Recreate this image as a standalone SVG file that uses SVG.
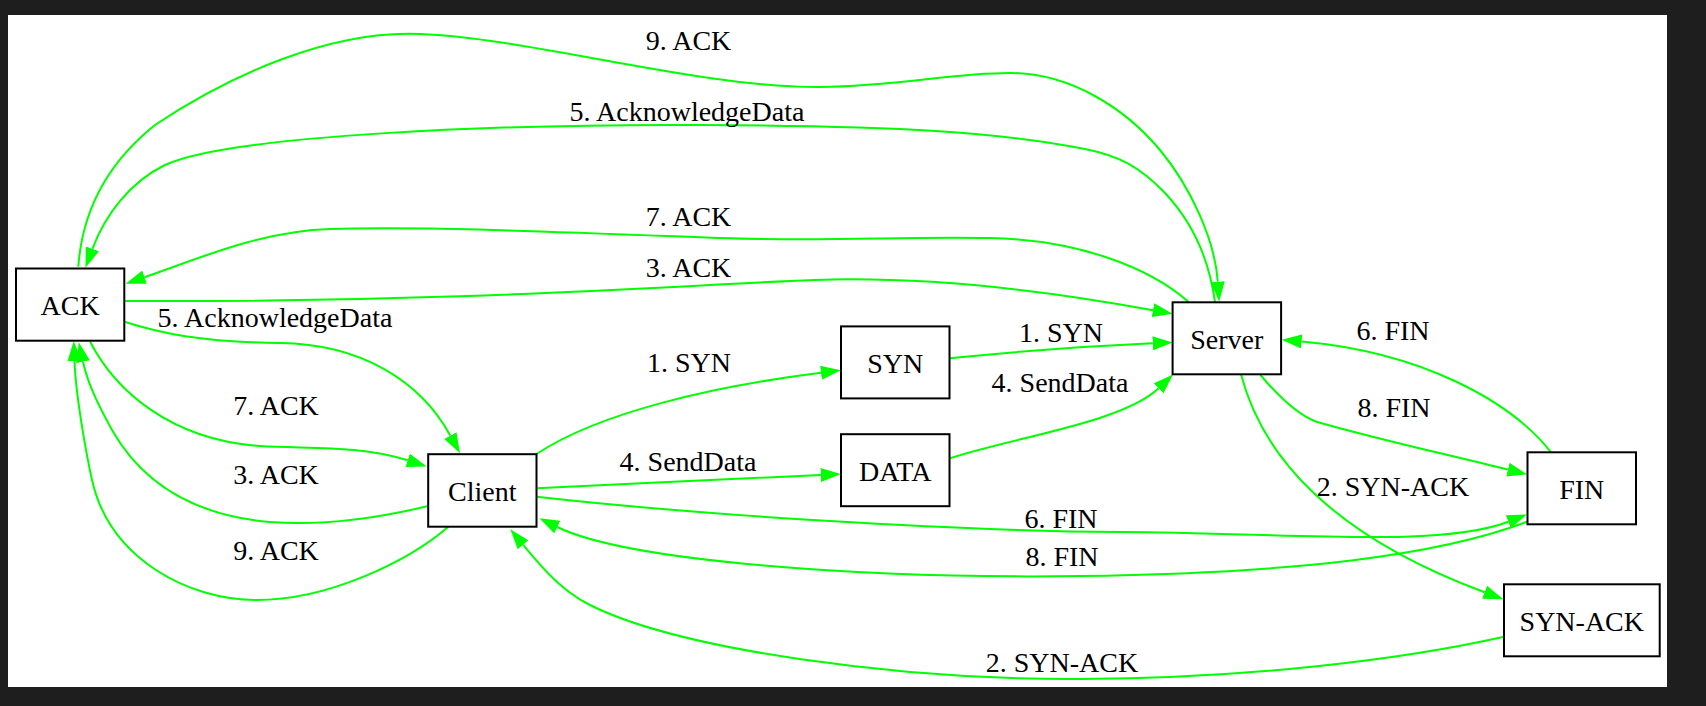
<svg xmlns="http://www.w3.org/2000/svg" width="1706" height="706" viewBox="0 0 1706 706">
<defs>
<style>
.n rect{fill:#fff;stroke:#000;stroke-width:2}
text{font-family:"Liberation Serif","Times New Roman",serif;font-size:28px;fill:#000;text-anchor:middle}
.e path{fill:none;stroke:#00ff00;stroke-width:2;marker-end:url(#ah)}
</style>
<marker id="ah" markerUnits="userSpaceOnUse" markerWidth="20" markerHeight="14" viewBox="0 0 20 14" refX="0" refY="7" orient="auto">
<path d="M0,0 L20,7 L0,14 Z" fill="#00ff00"/>
</marker>
</defs>
<rect width="1706" height="706" fill="#1e1e1e"/>
<rect x="8" y="15" width="1659" height="672" fill="#fff"/>
<g id="connectors" class="e">
<g id="e1"><path d="M536.5,454 C600,412 715,386 821,372.8"/><text x="689" y="372.3">1. SYN</text></g>
<g id="e2"><path d="M949.6,358.3 C1020,351 1090,346 1152.7,343.3"/><text x="1061" y="342.3">1. SYN</text></g>
<g id="e3"><path d="M536.7,488.3 C630,484 730,479 820.8,474.9"/><text x="688" y="470.7">4. SendData</text></g>
<g id="e4"><path d="M950,458.3 C1010,438 1122.6,422.8 1158.6,388.3"/><text x="1060" y="391.7">4. SendData</text></g>
<g id="e5"><path d="M536.7,496.7 C700,515 950,531 1120,532 C1290,533 1440,548 1508.3,521.7"/><text x="1061" y="528.3">6. FIN</text></g>
<g id="e6"><path d="M1527.3,521.7 C1440,555 1300,573 1080,576 C870,579 629,562 557.3,527"/><text x="1062" y="566">8. FIN</text></g>
<g id="e7"><path d="M1504,636.7 C1400,660 1250,678 1080,679 C900,680 680,650 590,605 C560,590 540,565 523.1,544.7"/><text x="1062" y="672.3">2. SYN-ACK</text></g>
<g id="e8"><path d="M1241,374.3 C1262,455 1330,535 1484.6,592.2"/><text x="1393" y="495.7">2. SYN-ACK</text></g>
<g id="e9"><path d="M1260.4,375 C1280,398 1300,416 1316.5,421.7 C1380,440 1450,455 1507.9,469.6"/><text x="1394" y="417.3">8. FIN</text></g>
<g id="e10"><path d="M1551,452.3 C1510,400 1420,352 1301.6,341.5"/><text x="1393" y="340">6. FIN</text></g>
<g id="e11"><path d="M428.3,506 C370,520 320,526 270,522 C200,516 145,488 112,430 C100,408 88,385 83,361.7"/><text x="276" y="484">3. ACK</text></g>
<g id="e12"><path d="M448.3,526.7 C410,560 330,600 256,600 C190,600 110,560 92,480 C88,462 76,400 74.5,361"/><text x="276" y="560">9. ACK</text></g>
<g id="e13"><path d="M90,341.5 C115,390 170,440 260,446 C310,449 360,445 407.7,460.3"/><text x="276" y="415">7. ACK</text></g>
<g id="e14"><path d="M124.3,321.7 C160,333 200,342 280,343 C360,344 420,380 450.4,435.7"/><text x="275" y="326.7">5. AcknowledgeData</text></g>
<g id="e15"><path d="M124.3,301 C500,303 740,280 848,279.3 C950,279 1060,293 1153,310.2"/><text x="688.5" y="276.7">3. ACK</text></g>
<g id="e16"><path d="M1188.3,301.7 C1150,268 1080,240 990,238 C900,236 830,242 720,238 C560,232 420,226 330,229 C260,231 195,260 144.5,277.2"/><text x="688.5" y="225.7">7. ACK</text></g>
<g id="e17"><path d="M1215,302.3 C1210,265 1195,225 1165,193 C1140,167 1120,156 1085,149 C1000,132 900,126 700,125 C500,124 230,135 165,165 C130,182 105,215 92.4,248.9"/><text x="687" y="120.7">5. AcknowledgeData</text></g>
<g id="e18"><path d="M78.3,266.7 C82,215 105,165 155,125 C230,75 330,30 420,34 C530,38 700,88 820,87 C900,86 950,73 1010,73 C1070,73 1125,108 1160,150 C1190,186 1215,240 1217.8,281.7"/><text x="688.5" y="50">9. ACK</text></g>
</g>
<g id="ACK" class="n"><rect x="16" y="268.5" width="108.3" height="72.2"/><text x="70.1" y="315">ACK</text></g>
<g id="Client" class="n"><rect x="428.2" y="454.2" width="108.3" height="72.5"/><text x="482.3" y="501">Client</text></g>
<g id="SYN" class="n"><rect x="841" y="326.4" width="108.5" height="72"/><text x="895.2" y="372.9">SYN</text></g>
<g id="DATA" class="n"><rect x="841" y="434.2" width="108.5" height="72"/><text x="895.2" y="480.7">DATA</text></g>
<g id="Server" class="n"><rect x="1172.6" y="302.3" width="108.5" height="72"/><text x="1226.8" y="348.8">Server</text></g>
<g id="FIN" class="n"><rect x="1527.5" y="452.3" width="108.5" height="72"/><text x="1581.7" y="498.8">FIN</text></g>
<g id="SYN-ACK" class="n"><rect x="1504" y="584.3" width="155.7" height="72"/><text x="1581.8" y="630.8">SYN-ACK</text></g>
</svg>
